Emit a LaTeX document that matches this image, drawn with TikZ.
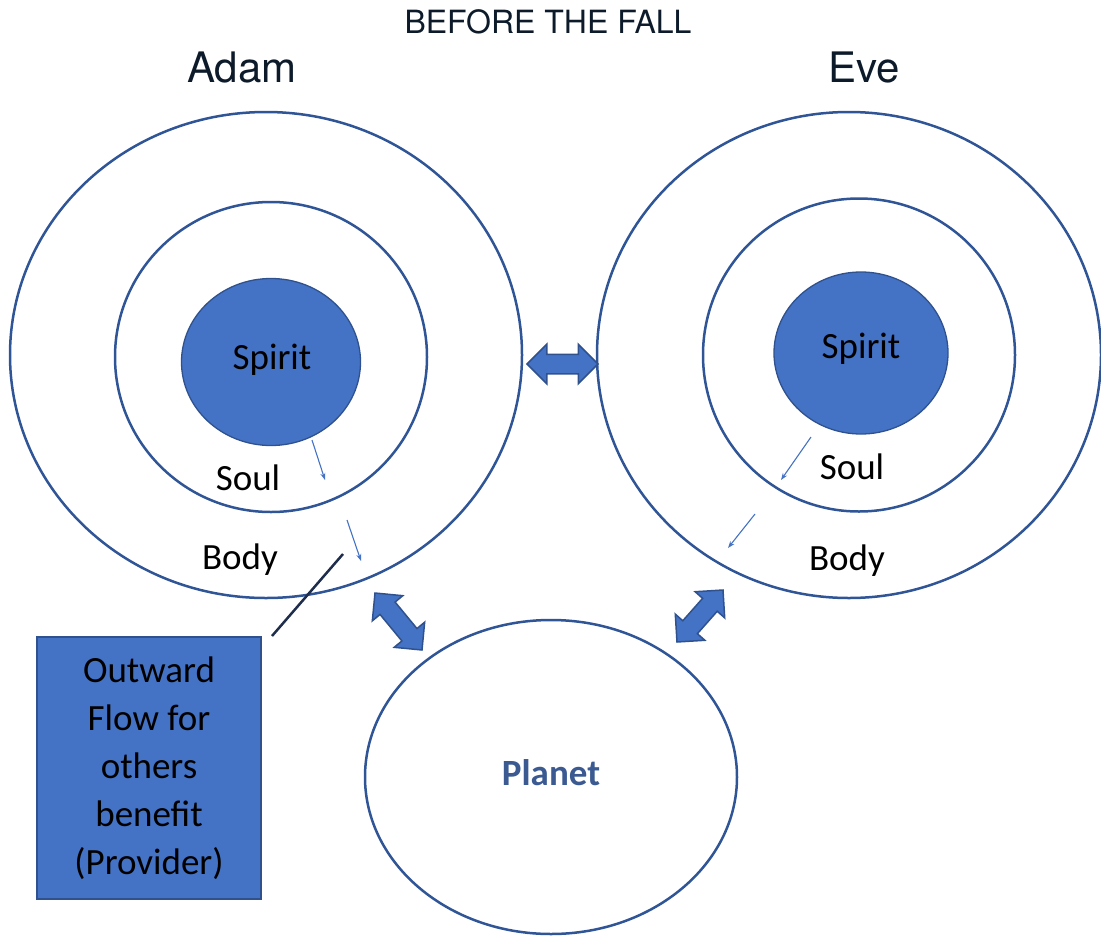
\documentclass[tikz,border=0pt]{standalone}
\usepackage{fontspec}
\setmainfont{Carlito}
\newfontfamily\headfont{TeX Gyre Heros}
\usetikzlibrary{shapes.geometric,shapes.arrows,calc,arrows.meta}
\definecolor{ringblue}{HTML}{2F5597}
\definecolor{spiritblue}{HTML}{4472C4}
\definecolor{edgeblue}{HTML}{2F528F}
\definecolor{planettext}{HTML}{3B5A92}
\definecolor{linknavy}{HTML}{1F2D4D}
\definecolor{headtext}{HTML}{0C1A2A}

\begin{document}
\begin{tikzpicture}[x=1pt,y=-1pt,
  ring/.style={ellipse,draw=ringblue,line width=2.5pt,inner sep=0pt},
  spirit/.style={ellipse,draw=edgeblue,line width=1.3pt,fill=spiritblue,inner sep=0pt},
  bigarrow/.style={double arrow,draw=edgeblue,line width=1.5pt,fill=spiritblue,
    inner sep=9pt,minimum width=38pt,double arrow head extend=10pt},
  flow/.style={-{Stealth[length=7pt,width=5pt]},spiritblue,line width=1.1pt},
  lbl/.style={inner sep=0pt,font=\fontsize{37}{48}\selectfont},
  head/.style={inner sep=0pt,text=headtext}]
\useasboundingbox (0,0) rectangle (1101,935);

% heading
\node[head,font=\headfont\fontsize{32}{36}\selectfont] (title) at (548,22) {BEFORE THE FALL};
\node[head,font=\headfont\fontsize{42}{46}\selectfont] (adam) at (242,68) {Adam};
\node[head,font=\headfont\fontsize{42}{46}\selectfont] (eve) at (864,68) {Eve};

% Adam
\node[ring,minimum width=512,minimum height=486] (abody) at (266,355) {};
\node[ring,minimum width=312,minimum height=310] (asoul) at (271,357) {};
\node[spirit,minimum width=179,minimum height=167] (aspirit) at (271,362) {};
\node[lbl] (aspiritlbl) at (272,360) {Spirit};
\node[lbl] (asoullbl) at (248,478) {Soul};
\node[lbl] (abodylbl) at (240,560) {Body};

% Eve
\node[ring,minimum width=504,minimum height=486] (ebody) at (849,355) {};
\node[ring,minimum width=312,minimum height=313] (esoul) at (859,355) {};
\node[spirit,minimum width=174,minimum height=162] (espirit) at (861,353) {};
\node[lbl] (espiritlbl) at (861,349) {Spirit};
\node[lbl] (esoullbl) at (852,467) {Soul};
\node[lbl] (ebodylbl) at (847,561) {Body};

% Planet
\node[ring,minimum width=372,minimum height=314] (planet) at (551,777) {};
\node[lbl,text=planettext,font=\fontsize{37}{48}\selectfont\bfseries] (planetlbl) at (551,773) {Planet};

% big double arrows
\coordinate (ae1) at (527,364); \coordinate (ae2) at (598,364);
\coordinate (ap1) at (375,593); \coordinate (ap2) at (422,650);
\coordinate (ep1) at (677,642); \coordinate (ep2) at (723,590);
\foreach \a/\b in {ae1/ae2,ap1/ap2,ep1/ep2}{
  \path let \p1=($(\b)-(\a)$), \n1={atan2(\y1,\x1)}, \n2={veclen(\x1,\y1)} in
    node[bigarrow,rotate=\n1,minimum height=\n2] at ($(\a)!.5!(\b)$) {};}

% small flow arrows
\coordinate (af1) at (312,440); \coordinate (at1) at (325,480);
\coordinate (af2) at (347,520); \coordinate (at2) at (361,561);
\coordinate (ef1) at (811,437); \coordinate (et1) at (781,480);
\coordinate (ef2) at (755,514); \coordinate (et2) at (728,548);
\foreach \i in {1,2}{
  \draw[flow] (af\i) -- (at\i);
  \draw[flow] (ef\i) -- (et\i);}

% provider box
\node[draw=edgeblue,line width=2pt,fill=spiritblue,minimum width=224,minimum height=262,
  align=center,lbl] (provider) at (149,768) {Outward\\Flow for\\others\\benefit\\(Provider)};
\coordinate (tail) at (343,554);
\draw[linknavy,line width=2.5pt] ([xshift=10pt]provider.north east) -- (tail);
\end{tikzpicture}
\end{document}
